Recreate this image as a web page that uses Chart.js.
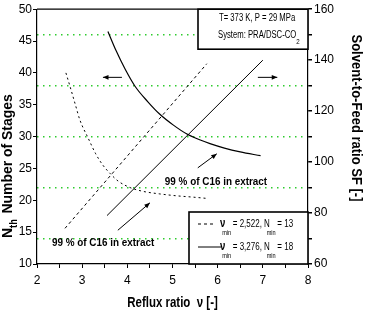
<!DOCTYPE html>
<html>
<head>
<meta charset="utf-8">
<script src="https://cdn.jsdelivr.net/npm/chart.js@4.4.1/dist/chart.umd.min.js"></script>
<style>
  html, body { margin: 0; padding: 0; background: #fff; }
</style>
</head>
<body>
<canvas id="c" width="365" height="317"></canvas>
<script>
// stages vs reflux ratio, nu_min = 2.522 (dashed)
const refluxA = [2.64, 2.73, 2.85, 2.95, 3.13, 3.3, 3.45, 3.62, 3.8, 4.06, 4.35, 4.72, 5.1, 5.45, 5.76];
const stagesA = [40.0, 37.9, 35.0, 32.6, 29.8, 27.3, 25.6, 24.2, 23.0, 22.0, 21.4, 21.0, 20.7, 20.5, 20.3];
// stages vs reflux ratio, nu_min = 3.276 (solid)
const refluxB = [3.57, 3.75, 3.95, 4.17, 4.45, 4.72, 5.02, 5.32, 5.6, 5.83, 6.15, 6.5, 6.95];
const stagesB = [46.5, 43.5, 40.6, 37.9, 35.5, 33.5, 31.8, 30.4, 29.5, 28.9, 28.2, 27.6, 27.0];
// solvent-to-feed ratio (right axis)
const sfRefluxA = [2.62, 5.76];
const sfA = [74, 138.6];
const sfRefluxB = [3.55, 7.0];
const sfB = [79, 140];

const xTicks = [2, 3, 4, 5, 6, 7, 8];
const leftTicks = [10, 15, 20, 25, 30, 35, 40, 45, 50];
const rightTicks = [60, 80, 100, 120, 140, 160];

const legendRows = [
  { nu: '2,522', n: '13', dash: [3, 3] },
  { nu: '3,276', n: '18', dash: [] },
];

const FONT = '"Liberation Sans Narrow", "Arial Narrow", "Liberation Sans", Arial, sans-serif';

function pts(xs, ys) {
  return xs.map((x, i) => ({ x: x, y: ys[i] }));
}

function arrow(ctx, x1, y1, x2, y2) {
  const a = Math.atan2(y2 - y1, x2 - x1);
  const h = 6;
  ctx.beginPath();
  ctx.moveTo(x1, y1);
  ctx.lineTo(x2, y2);
  ctx.stroke();
  ctx.beginPath();
  ctx.moveTo(x2, y2);
  ctx.lineTo(x2 - h * Math.cos(a - 0.4), y2 - h * Math.sin(a - 0.4));
  ctx.lineTo(x2 - h * Math.cos(a + 0.4), y2 - h * Math.sin(a + 0.4));
  ctx.closePath();
  ctx.fill();
}

// pieces of text one after another, squeezed sideways by k (the original font is a narrow one)
function rich(ctx, parts, x, y, k) {
  let cx = x;
  parts.forEach((p) => {
    ctx.font = p.font;
    ctx.save();
    ctx.translate(cx, y + (p.dy || 0));
    ctx.scale(k, 1);
    ctx.fillText(p.t, 0, 0);
    ctx.restore();
    cx += (ctx.measureText(p.t).width + (p.gap || 0)) * k;
  });
  return cx - x;
}

function richWidth(ctx, parts, k) {
  let w = 0;
  parts.forEach((p) => {
    ctx.font = p.font;
    w += (ctx.measureText(p.t).width + (p.gap || 0)) * k;
  });
  return w;
}

const extras = {
  id: 'extras',
  afterDraw(chart) {
    const ctx = chart.ctx;
    const ca = chart.chartArea;
    const sx = chart.scales.x;
    const sy = chart.scales.y;
    ctx.save();
    ctx.fillStyle = '#000';
    ctx.strokeStyle = '#000';
    ctx.textAlign = 'left';
    ctx.textBaseline = 'middle';

    // top frame line
    ctx.lineWidth = 1.2;
    ctx.beginPath();
    ctx.moveTo(ca.left, ca.top);
    ctx.lineTo(ca.right, ca.top);
    ctx.stroke();

    // arrows
    ctx.lineWidth = 1;
    arrow(ctx, sx.getPixelForValue(3.88), sy.getPixelForValue(39.3), sx.getPixelForValue(3.46), sy.getPixelForValue(39.3));
    arrow(ctx, sx.getPixelForValue(6.89), sy.getPixelForValue(39.3), sx.getPixelForValue(7.32), sy.getPixelForValue(39.3));
    arrow(ctx, sx.getPixelForValue(5.56), sy.getPixelForValue(25.1), sx.getPixelForValue(5.98), sy.getPixelForValue(27.3));
    arrow(ctx, sx.getPixelForValue(3.79), sy.getPixelForValue(15.3), sx.getPixelForValue(4.5), sy.getPixelForValue(19.6));

    // labels
    const lab = [{ t: '99 % of C16 in extract', font: 'bold 11px ' + FONT }];
    rich(ctx, lab, sx.getPixelForValue(4.83), sy.getPixelForValue(22.9), 0.9);
    rich(ctx, lab, sx.getPixelForValue(2.33), sy.getPixelForValue(13.3), 0.9);

    // info box top right
    ctx.lineWidth = 1.6;
    ctx.fillStyle = '#fff';
    ctx.fillRect(ca.right - 110, ca.top, 110, 40);
    ctx.strokeRect(ca.right - 110, ca.top, 110, 40);
    ctx.fillStyle = '#000';
    rich(ctx, [{ t: 'T= 373 K, P = 29 MPa', font: '10px ' + FONT }], ca.right - 89, ca.top + 9, 0.77);
    rich(ctx, [
      { t: 'System: PRA/DSC-CO', font: '10px ' + FONT },
      { t: '2', font: '8px ' + FONT, dy: 7 },
    ], ca.right - 90, ca.top + 26, 0.77);

    // legend box bottom right
    const lx = ca.right - 119;
    const ly = ca.bottom - 52;
    ctx.fillStyle = '#fff';
    ctx.fillRect(lx, ly, 119, 52);
    ctx.strokeRect(lx, ly, 119, 52);
    ctx.fillStyle = '#000';
    legendRows.forEach((r, i) => {
      const y = ly + 12 + i * 23;
      ctx.lineWidth = 1;
      ctx.setLineDash(r.dash);
      ctx.beginPath();
      ctx.moveTo(lx + 9, y);
      ctx.lineTo(lx + (r.dash.length ? 26 : 32), y);
      ctx.stroke();
      ctx.setLineDash([]);
      rich(ctx, [
        { t: 'ν', font: 'bold 12px ' + FONT, gap: -4 },
        { t: 'min', font: '7px ' + FONT, dy: 9, gap: 2 },
        { t: '= ' + r.nu + ', N', font: '10px ' + FONT, gap: -4 },
        { t: 'min', font: '7px ' + FONT, dy: 9, gap: 2 },
        { t: '= ' + r.n, font: '10px ' + FONT },
      ], lx + 31, y, 0.8);
    });

    // axis titles
    const xt = [{ t: 'Reflux ratio  ν [-]', font: 'bold 14px ' + FONT }];
    const xw = richWidth(ctx, xt, 0.82);
    rich(ctx, xt, (ca.left + ca.right) / 2 - xw / 2, 303, 0.82);

    ctx.save();
    ctx.translate(8, 238);
    ctx.rotate(-Math.PI / 2);
    rich(ctx, [
      { t: 'N', font: 'bold 15px ' + FONT },
      { t: 'th', font: 'bold 10px ' + FONT, dy: 6, gap: 6 },
      { t: 'Number of Stages', font: 'bold 15px ' + FONT },
    ], 0, 0, 0.93);
    ctx.restore();

    ctx.save();
    ctx.translate(356, 118);
    ctx.rotate(Math.PI / 2);
    const rt = [{ t: 'Solvent-to-Feed ratio SF [-]', font: 'bold 14px ' + FONT }];
    const rw = richWidth(ctx, rt, 0.93);
    rich(ctx, rt, -rw / 2, 0, 0.93);
    ctx.restore();

    ctx.restore();
  },
};

const lineStyle = {
  showLine: true,
  pointRadius: 0,
  borderColor: '#000',
  borderWidth: 1,
  fill: false,
};

new Chart(document.getElementById('c'), {
  type: 'scatter',
  data: {
    datasets: [
      { ...lineStyle, data: pts(refluxA, stagesA), borderDash: [2, 3], cubicInterpolationMode: 'monotone', yAxisID: 'y' },
      { ...lineStyle, data: pts(refluxB, stagesB), borderWidth: 1.2, cubicInterpolationMode: 'monotone', yAxisID: 'y' },
      { ...lineStyle, data: pts(sfRefluxA, sfA), borderDash: [3, 3], yAxisID: 'y1' },
      { ...lineStyle, data: pts(sfRefluxB, sfB), yAxisID: 'y1' },
    ],
  },
  options: {
    responsive: false,
    animation: false,
    devicePixelRatio: 1,
    layout: { padding: { top: 7, left: 0, right: 0, bottom: 0 } },
    plugins: {
      legend: { display: false },
      tooltip: { enabled: false },
    },
    scales: {
      x: {
        type: 'linear',
        min: 2,
        max: 8,
        afterFit: (s) => { s.height = 53; },
        ticks: {
          stepSize: 0.5,
          autoSkip: false,
          padding: 5,
          color: '#000',
          font: { family: FONT, size: 12 },
          callback: (v) => (xTicks.includes(v) ? String(v) : ''),
        },
        grid: { drawOnChartArea: false, tickLength: 4, tickColor: '#000', color: '#000' },
        border: { color: '#000', width: 1.2 },
      },
      y: {
        position: 'left',
        min: 10,
        max: 50,
        afterFit: (s) => { s.width = 37; },
        ticks: {
          stepSize: 5,
          autoSkip: false,
          padding: 1,
          color: '#000',
          font: { family: FONT, size: 12 },
          callback: (v) => (leftTicks.includes(v) ? String(v) : ''),
        },
        grid: { drawOnChartArea: false, tickLength: 4, tickColor: '#000', color: '#000' },
        border: { color: '#000', width: 1.2 },
      },
      y1: {
        position: 'right',
        min: 60,
        max: 160,
        afterFit: (s) => { s.width = 57; },
        ticks: {
          stepSize: 10,
          autoSkip: false,
          padding: 2,
          color: '#000',
          font: { family: FONT, size: 12 },
          callback: (v) => (rightTicks.includes(v) ? String(v) : ''),
        },
        grid: {
          drawOnChartArea: true,
          lineWidth: 1.5,
          tickLength: 4,
          tickColor: '#000',
          color: (c) => (c.tick && !rightTicks.includes(c.tick.value) ? '#2ecc2e' : 'rgba(0,0,0,0)'),
        },
        border: { color: '#000', width: 1.2, dash: [1.5, 4.5] },
      },
    },
  },
  plugins: [extras],
});
</script>
</body>
</html>
